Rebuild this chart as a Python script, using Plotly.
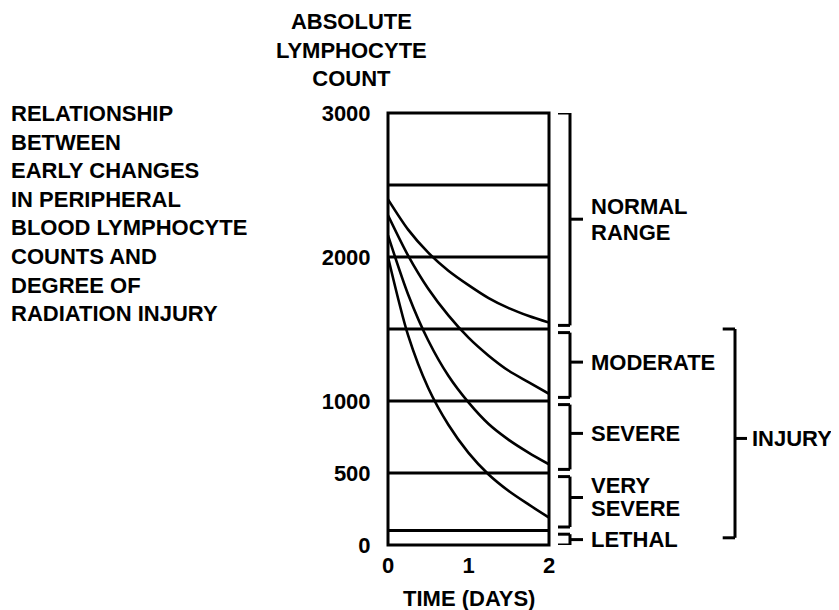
import plotly.graph_objects as go

# ---- data ----
days = [0, 0.25, 0.5, 0.75, 1.0, 1.25, 1.5, 1.75, 2.0]
curve_a = [2400, 2190, 2030, 1905, 1805, 1715, 1645, 1590, 1545]
curve_b = [2290, 2010, 1780, 1595, 1440, 1315, 1210, 1130, 1050]
curve_c = [2150, 1740, 1420, 1175, 990, 840, 730, 640, 560]
curve_d = [2000, 1455, 1090, 835, 640, 490, 375, 280, 190]

grid_levels = [2500, 2000, 1500, 1000, 500, 100]
y_ticks = [0, 500, 1000, 2000, 3000]
x_ticks = [0, 1, 2]

band_edges = [3000, 1500, 1000, 500, 100, 0]
band_labels = [["NORMAL", "RANGE"], ["MODERATE"], ["SEVERE"], ["VERY", "SEVERE"], ["LETHAL"]]
band_mid_adjust = [0, 20, 25, 30, 0]   # bracket tips sit slightly above the middle
injury_span = [1500, 50]
injury_mid = 740
injury_label = "INJURY"

y_title = "ABSOLUTE<br>LYMPHOCYTE<br>COUNT"
x_title = "TIME (DAYS)"
side_title = ("RELATIONSHIP<br>BETWEEN<br>EARLY CHANGES<br>IN PERIPHERAL<br>"
              "BLOOD LYMPHOCYTE<br>COUNTS AND<br>DEGREE OF<br>RADIATION INJURY")

FONT = "Liberation Sans, Arial, sans-serif"
FS = 22
black = "#000000"
tfont = dict(family=FONT, size=FS, color=black, weight="bold")

fig = go.Figure()
for ys in (curve_a, curve_b, curve_c, curve_d):
    fig.add_trace(go.Scatter(x=days, y=ys, mode="lines",
                             line=dict(color=black, width=2.6, shape="spline", smoothing=0.8),
                             hoverinfo="skip", showlegend=False))

shapes = []
shapes.append(dict(type="rect", xref="x domain", yref="y domain", x0=0, x1=1, y0=0, y1=1,
                   line=dict(color=black, width=3)))
for lv in grid_levels:
    shapes.append(dict(type="line", xref="x domain", yref="y", x0=0, x1=1, y0=lv, y1=lv,
                       line=dict(color=black, width=3)))

def seg(x0, x1, y0, y1):
    return dict(type="line", xref="paper", yref="y", x0=x0, x1=x1, y0=y0, y1=y1,
                line=dict(color=black, width=3))

def bracket(xa, xv, xt, top, bot, mid):
    return [seg(xa, xv, top, top), seg(xv, xv, top, bot), seg(xa, xv, bot, bot), seg(xv, xt, mid, mid)]

gap = 25
annotations = []
for i, lines in enumerate(band_labels):
    top = band_edges[i] - (gap if i > 0 else 0)
    bot = band_edges[i + 1] + (gap if i + 1 < len(band_edges) - 1 else 0)
    mid = (top + bot) / 2 + band_mid_adjust[i]
    shapes += bracket(1.0559, 1.1304, 1.2112, top, bot, mid)
    n = len(lines)
    step = 26 if i == 0 else 23
    for j, lab in enumerate(lines):
        shift = ((n - 1) / 2 - j) * step
        annotations.append(dict(xref="paper", yref="y", x=1.2484, y=mid, yshift=shift, text=lab,
                                xanchor="left", yanchor="middle", align="left", showarrow=False,
                                font=tfont))

shapes += bracket(2.0789, 2.1553, 2.2298, injury_span[0], injury_span[1], injury_mid)
annotations.append(dict(xref="paper", yref="y", x=2.2486, y=injury_mid, text=injury_label,
                        xanchor="left", yanchor="middle", align="left", showarrow=False, font=tfont))

annotations.append(dict(xref="paper", yref="paper", x=-0.2255, y=1.1465, text=y_title,
                        xanchor="center", yanchor="middle", align="center", showarrow=False, font=tfont))
annotations.append(dict(xref="paper", yref="paper", x=-2.354, y=0.7685, text=side_title,
                        xanchor="left", yanchor="middle", align="left", showarrow=False, font=tfont))
annotations.append(dict(xref="x domain", yref="paper", x=0.5, y=-0.1227, text=x_title,
                        xanchor="center", yanchor="middle", align="center", showarrow=False, font=tfont))

# page body has an 8px margin, so the figure is sized to fit 839x610 after that offset
fig.update_layout(
    width=831, height=602,
    margin=dict(l=380, r=290, t=105, b=65),
    paper_bgcolor="white", plot_bgcolor="white",
    shapes=shapes, annotations=annotations,
    showlegend=False,
    xaxis=dict(range=[0, 2], tickvals=x_ticks, ticktext=[str(v) for v in x_ticks],
               showgrid=False, zeroline=False, showline=False,
               ticks="outside", ticklen=1, tickcolor="rgba(0,0,0,0)",
               tickfont=tfont, fixedrange=True),
    yaxis=dict(range=[0, 3000], tickvals=y_ticks, ticktext=[str(v) for v in y_ticks],
               showgrid=False, zeroline=False, showline=False,
               ticks="outside", ticklen=12, tickcolor="rgba(0,0,0,0)",
               tickfont=tfont, fixedrange=True),
)

fig.write_html("out.html")
